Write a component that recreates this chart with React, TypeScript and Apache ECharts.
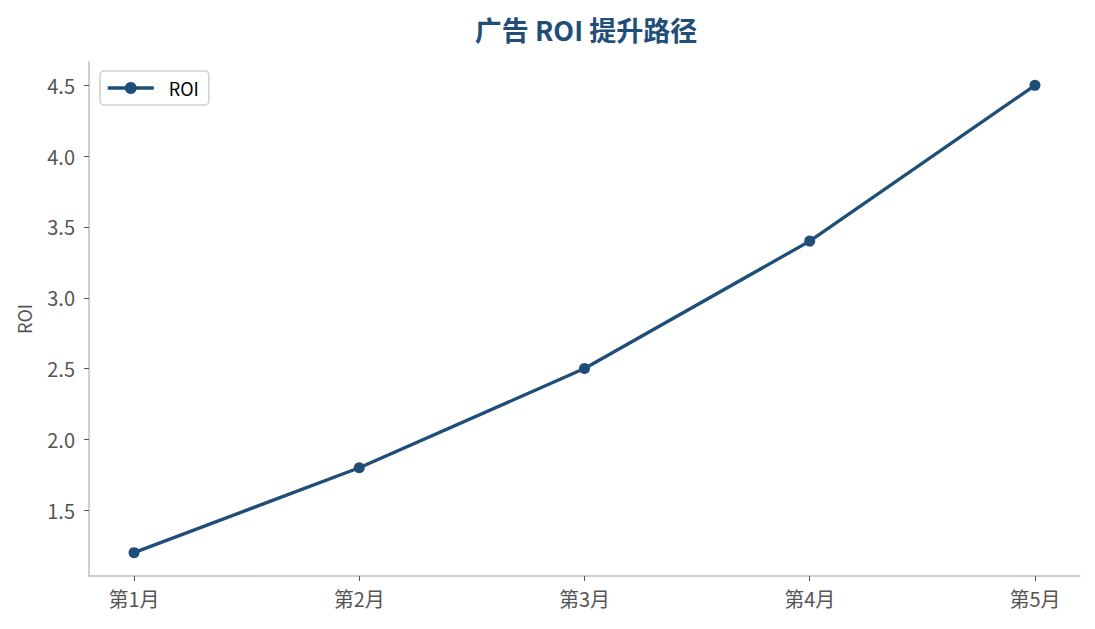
import { useEffect, useRef } from "react";
import * as echarts from "echarts";

const months = ["第1月", "第2月", "第3月", "第4月", "第5月"];
const roi = [1.2, 1.8, 2.5, 3.4, 4.5];
const yTicks = [1.5, 2.0, 2.5, 3.0, 3.5, 4.0, 4.5];

const FONT = "'Noto Sans CJK SC', 'Noto Sans', sans-serif";
const LINE = "#1f4e79";

export default function App() {
  const chartRef = useRef<HTMLDivElement>(null);

  useEffect(() => {
    document.body.style.margin = "0";
    if (!chartRef.current) return;
    const chart = echarts.init(chartRef.current, null, { renderer: "svg" });

    const option: echarts.EChartsOption = {
      animation: false,
      backgroundColor: "#fff",
      textStyle: { fontFamily: FONT },
      title: {
        text: "广告 ROI 提升路径",
        left: 581,
        textAlign: "center",
        top: 11,
        textStyle: { fontSize: 27, fontWeight: "bold", color: LINE, fontFamily: FONT },
      },
      legend: {
        left: 100,
        top: 71,
        orient: "vertical",
        padding: [8, 10, 8, 6],
        borderColor: "#d0d0d0",
        borderWidth: 1.5,
        borderRadius: 4,
        itemWidth: 46,
        itemHeight: 15,
        lineStyle: { width: 3.5 },
        textStyle: { fontSize: 18, color: "#000", fontFamily: FONT, padding: [0, 0, 0, 10] },
        data: ["ROI"],
      },
      grid: { left: 89, right: 15, top: 62, bottom: 53 },
      xAxis: {
        type: "value",
        min: -0.2,
        max: 4.2,
        splitLine: { show: false },
        axisLine: { show: true, onZero: false, lineStyle: { color: "#bfbfbf", width: 1.5 } },
        axisTick: {
          show: true,
          length: 5,
          lineStyle: { color: "#555", width: 1 },
          customValues: months.map((_, i) => i),
        },
        axisLabel: {
          color: "#555",
          fontSize: 20,
          margin: 12,
          customValues: months.map((_, i) => i),
          formatter: (v: number) => months[Math.round(v)] ?? "",
        },
      },
      yAxis: {
        type: "value",
        min: 1.035,
        max: 4.665,
        name: "ROI",
        nameLocation: "middle",
        nameGap: 56,
        nameTextStyle: { fontSize: 18, color: "#555", fontFamily: FONT },
        splitLine: { show: false },
        axisLine: { show: true, onZero: false, lineStyle: { color: "#bfbfbf", width: 1.5 } },
        axisTick: {
          show: true,
          length: 5,
          lineStyle: { color: "#555", width: 1 },
          customValues: yTicks,
        },
        axisLabel: {
          color: "#555",
          fontSize: 20,
          margin: 14,
          customValues: yTicks,
          formatter: (v: number) => v.toFixed(1),
        },
      },
      series: [
        {
          name: "ROI",
          type: "line",
          data: roi.map((v, i) => [i, v]),
          symbol: "circle",
          symbolSize: 11,
          lineStyle: { width: 3.3, color: LINE },
          itemStyle: { color: LINE },
        },
      ],
    };

    chart.setOption(option);
    return () => {
      chart.dispose();
    };
  }, []);

  return <div ref={chartRef} style={{ width: 1095, height: 629 }} />;
}
